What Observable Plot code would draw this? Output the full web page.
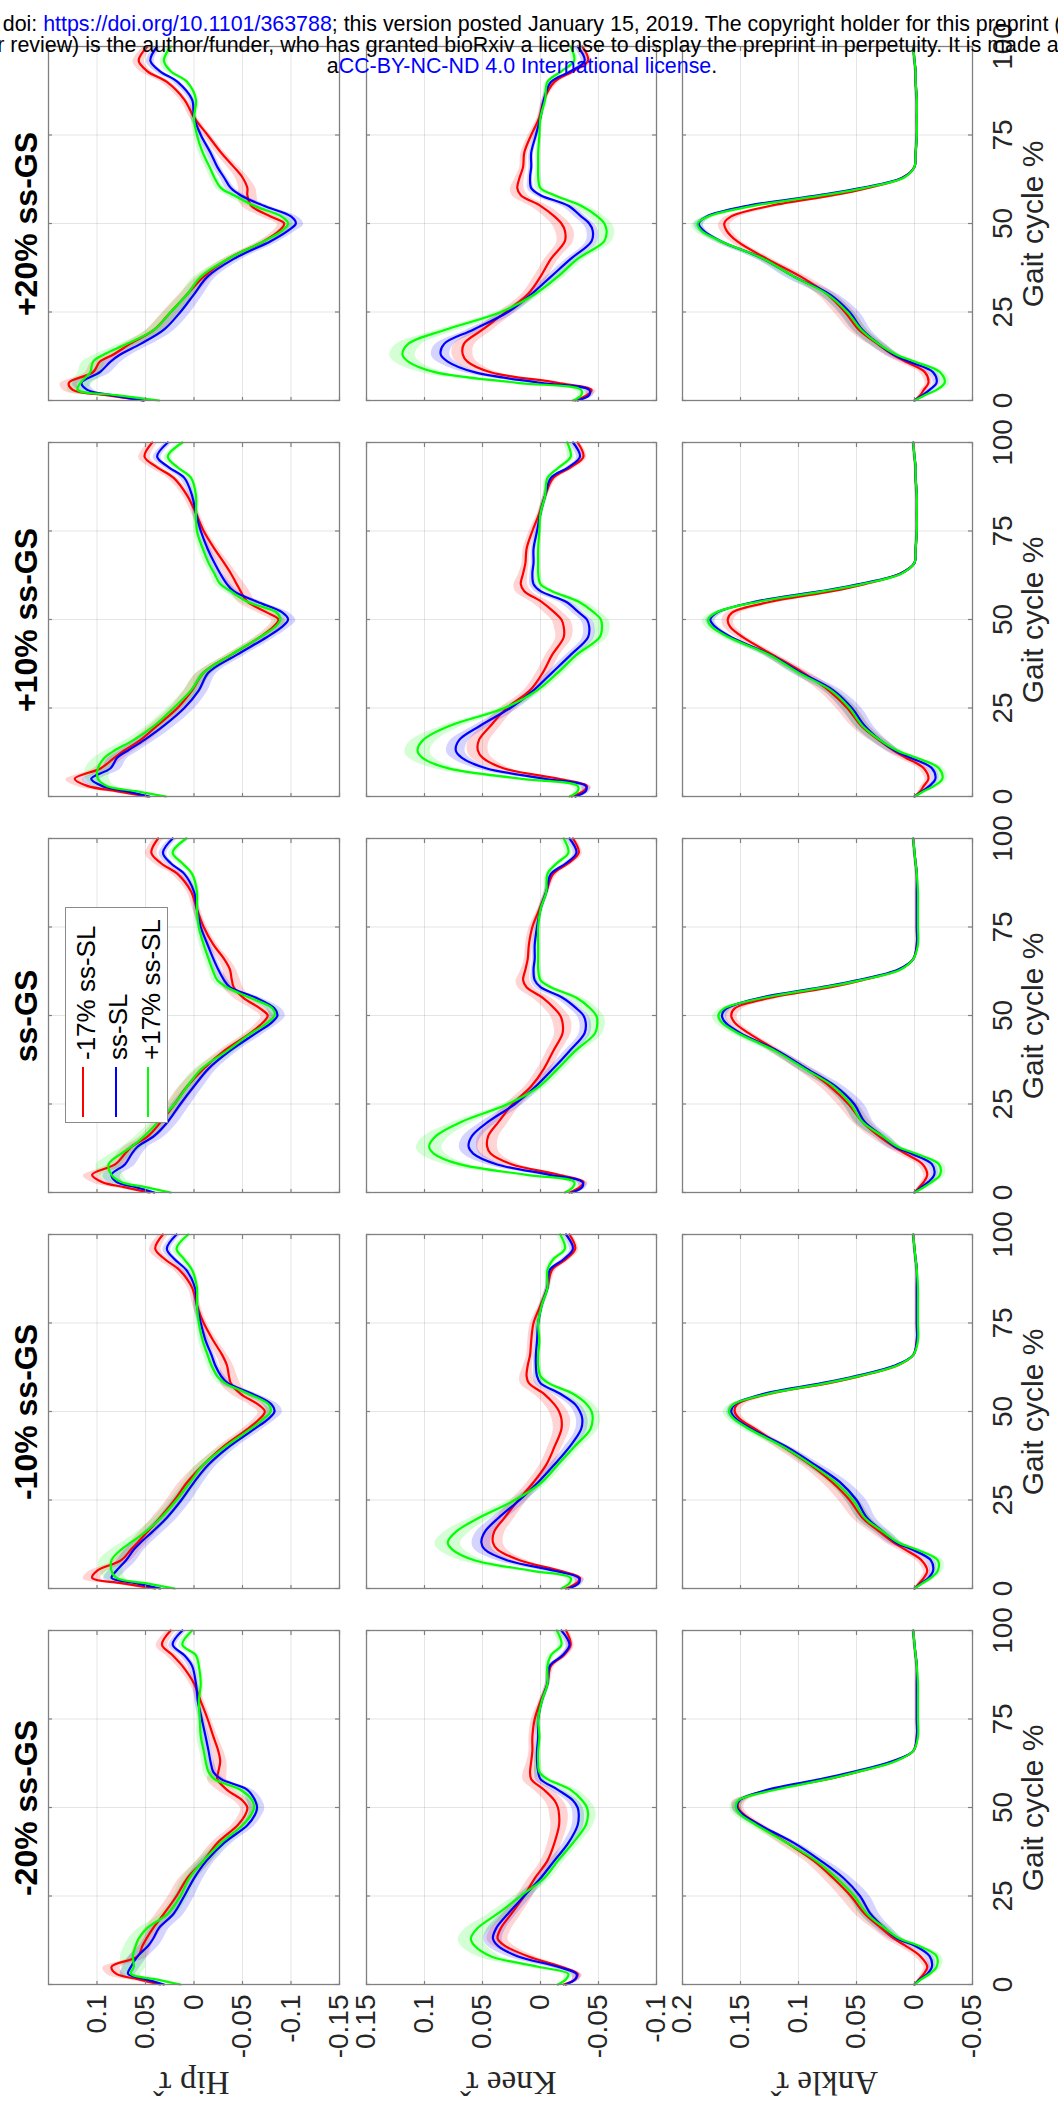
<!DOCTYPE html>
<html><head><meta charset="utf-8">
<script src="https://cdn.jsdelivr.net/npm/d3@7"></script>
<script src="https://cdn.jsdelivr.net/npm/@observablehq/plot@0.6"></script>
<style>
html,body{margin:0;padding:0;background:#fff;}
body{width:1058px;height:2112px;position:relative;overflow:hidden;font-family:"Liberation Sans",Arial,Helvetica,sans-serif;}
#fig{position:absolute;left:0;top:0;width:2112px;height:1058px;transform-origin:0 0;transform:translate(0px,2112px) rotate(-90deg);}
.t{position:absolute;white-space:nowrap;line-height:1;}
.hdr{position:absolute;left:-600px;width:2244px;text-align:center;font-size:21.4px;line-height:21px;white-space:nowrap;color:#000;}
.lnk{color:#0000ff;}
</style></head><body>
<div id="fig"></div>
<div class="hdr" style="top:14px">bioRxiv preprint doi: <span class="lnk">https://doi.org/10.1101/363788</span>; this version posted January 15, 2019. The copyright holder for this preprint (which was not</div>
<div class="hdr" style="top:35px">certified by peer review) is the author/funder, who has granted bioRxiv a license to display the preprint in perpetuity. It is made available under</div>
<div class="hdr" style="top:56px">a<span class="lnk">CC-BY-NC-ND 4.0 International license</span>.</div>
<script>
// ---------- data ----------
const G = [0,1.5,3,5,8,11,13,16,20,25,30,35,40,45,48,50,52,55,58,60,63,66,70,75,80,85,90,93,96,100];
const conditions = ["-20% ss-GS","-10% ss-GS","ss-GS","+10% ss-GS","+20% ss-GS"];
const seriesNames = ["-17% ss-SL","ss-SL","+17% ss-SL"];
const seriesColors = ["#ff0000","#0000ff","#00ff00"];
const jointLabels = ["Hip","Knee","Ankle"];
const gaitTicks = [0,25,50,75,100];
const hipTicks = [0.1,0.05,0,-0.05,-0.1,-0.15];
const kneeTicks = [0.15,0.1,0.05,0,-0.05,-0.1];
const ankleTicks = [0.2,0.15,0.1,0.05,0,-0.05];
const hipDomain = [-0.15,0.15];
const kneeDomain = [-0.1,0.15];
const ankleDomain = [-0.05,0.2];

// each array: one row per condition (-20%, -10%, ss, +10%, +20%), values at G
const hipRed = [
 [0.035,0.058,0.08,0.085,0.058,0.053,0.049,0.042,0.031,0.018,0.007,-0.01,-0.024,-0.045,-0.053,-0.055,-0.05,-0.034,-0.024,-0.025,-0.027,-0.025,-0.02,-0.014,-0.007,0,0.012,0.022,0.033,0.024],
 [0.04,0.075,0.105,0.1,0.075,0.065,0.058,0.048,0.035,0.02,0.007,-0.01,-0.03,-0.055,-0.068,-0.073,-0.066,-0.048,-0.038,-0.036,-0.034,-0.029,-0.02,-0.01,-0.003,0.002,0.015,0.03,0.04,0.032],
 [0.046,0.072,0.095,0.105,0.081,0.071,0.064,0.047,0.034,0.02,0.007,-0.01,-0.031,-0.058,-0.071,-0.076,-0.068,-0.051,-0.041,-0.039,-0.037,-0.031,-0.02,-0.01,-0.003,0.003,0.017,0.034,0.044,0.037],
 [0.048,0.08,0.11,0.123,0.096,0.082,0.072,0.055,0.038,0.017,0.002,-0.01,-0.038,-0.068,-0.082,-0.087,-0.075,-0.055,-0.048,-0.044,-0.038,-0.031,-0.021,-0.01,-0.002,0.007,0.021,0.038,0.051,0.043],
 [0.052,0.09,0.125,0.129,0.104,0.097,0.083,0.066,0.041,0.024,0.007,-0.01,-0.035,-0.072,-0.088,-0.093,-0.079,-0.059,-0.055,-0.055,-0.05,-0.041,-0.028,-0.014,0,0.01,0.028,0.048,0.057,0.048]
];
const hipBlue = [
 [0.031,0.05,0.068,0.065,0.058,0.047,0.042,0.036,0.021,0.01,0,-0.013,-0.031,-0.055,-0.063,-0.065,-0.063,-0.055,-0.028,-0.02,-0.017,-0.015,-0.012,-0.008,-0.004,-0.002,0.002,0.01,0.022,0.012],
 [0.035,0.06,0.085,0.08,0.07,0.062,0.055,0.043,0.028,0.013,0,-0.015,-0.036,-0.062,-0.077,-0.083,-0.08,-0.06,-0.035,-0.028,-0.022,-0.018,-0.012,-0.007,-0.003,-0.001,0.008,0.02,0.028,0.018],
 [0.041,0.06,0.08,0.085,0.071,0.064,0.058,0.041,0.027,0.014,0,-0.015,-0.037,-0.064,-0.08,-0.086,-0.083,-0.064,-0.037,-0.031,-0.025,-0.02,-0.014,-0.007,-0.003,0,0.01,0.024,0.032,0.022],
 [0.046,0.07,0.095,0.106,0.086,0.079,0.068,0.051,0.031,0.01,-0.005,-0.015,-0.044,-0.075,-0.091,-0.097,-0.091,-0.065,-0.041,-0.034,-0.027,-0.021,-0.014,-0.007,-0.002,0.002,0.01,0.026,0.038,0.027],
 [0.052,0.085,0.11,0.116,0.097,0.086,0.076,0.055,0.031,0.014,0,-0.014,-0.041,-0.079,-0.097,-0.105,-0.1,-0.072,-0.048,-0.038,-0.031,-0.024,-0.017,-0.007,0,0.002,0.017,0.035,0.045,0.038]
];
const hipGreen = [
 [0.014,0.04,0.065,0.062,0.063,0.06,0.057,0.048,0.027,0.014,0.005,-0.01,-0.028,-0.05,-0.059,-0.062,-0.06,-0.048,-0.021,-0.015,-0.012,-0.01,-0.007,-0.006,-0.005,-0.007,-0.005,-0.002,0.012,0.002],
 [0.02,0.05,0.08,0.085,0.085,0.075,0.065,0.05,0.034,0.018,0.004,-0.01,-0.032,-0.058,-0.072,-0.079,-0.077,-0.056,-0.032,-0.024,-0.018,-0.014,-0.009,-0.005,-0.003,-0.003,0.002,0.01,0.018,0.006],
 [0.024,0.05,0.075,0.085,0.088,0.075,0.064,0.051,0.037,0.02,0.007,-0.008,-0.034,-0.059,-0.076,-0.083,-0.081,-0.058,-0.034,-0.024,-0.019,-0.015,-0.01,-0.005,-0.003,-0.003,0.002,0.012,0.022,0.008],
 [0.029,0.06,0.09,0.099,0.099,0.092,0.082,0.062,0.041,0.021,0.003,-0.01,-0.038,-0.068,-0.084,-0.089,-0.085,-0.055,-0.038,-0.027,-0.021,-0.015,-0.009,-0.003,-0.002,-0.002,0.003,0.017,0.027,0.012],
 [0.036,0.08,0.12,0.117,0.107,0.104,0.093,0.069,0.041,0.024,0.007,-0.007,-0.035,-0.072,-0.091,-0.097,-0.09,-0.062,-0.041,-0.028,-0.021,-0.016,-0.009,-0.003,0,-0.002,0.007,0.024,0.031,0.024]
];
const kneeRed = [
 [-0.02,-0.03,-0.032,-0.018,0.011,0.031,0.037,0.034,0.025,0.014,0.005,-0.006,-0.012,-0.016,-0.016,-0.015,-0.012,-0.003,0.008,0.009,0.008,0.007,0.007,0.005,0,-0.006,-0.009,-0.02,-0.026,-0.022],
 [-0.022,-0.031,-0.034,-0.017,0.018,0.037,0.041,0.04,0.031,0.019,0.006,-0.005,-0.012,-0.018,-0.018,-0.016,-0.012,-0.003,0.01,0.012,0.011,0.009,0.008,0.006,0,-0.006,-0.01,-0.022,-0.03,-0.025],
 [-0.025,-0.034,-0.037,-0.016,0.025,0.043,0.046,0.045,0.036,0.024,0.008,-0.003,-0.011,-0.019,-0.019,-0.017,-0.012,-0.002,0.012,0.015,0.013,0.011,0.01,0.007,0.001,-0.005,-0.011,-0.024,-0.033,-0.028],
 [-0.027,-0.037,-0.04,-0.016,0.032,0.05,0.054,0.053,0.043,0.029,0.009,-0.002,-0.01,-0.02,-0.02,-0.018,-0.012,-0.001,0.014,0.017,0.015,0.013,0.012,0.007,0.001,-0.004,-0.011,-0.026,-0.037,-0.032],
 [-0.03,-0.04,-0.044,-0.015,0.043,0.063,0.067,0.066,0.05,0.03,0.011,0,-0.009,-0.021,-0.021,-0.018,-0.012,0,0.017,0.02,0.018,0.015,0.014,0.008,0.001,-0.003,-0.012,-0.028,-0.041,-0.036]
];
const kneeBlue = [
 [-0.022,-0.03,-0.031,-0.015,0.02,0.037,0.041,0.038,0.028,0.014,0,-0.012,-0.024,-0.032,-0.033,-0.032,-0.028,-0.015,0,0.002,0.003,0.003,0.002,0.002,-0.001,-0.006,-0.008,-0.019,-0.025,-0.018],
 [-0.024,-0.033,-0.033,-0.012,0.029,0.048,0.051,0.048,0.036,0.018,0.002,-0.012,-0.025,-0.035,-0.036,-0.034,-0.03,-0.017,0,0.003,0.004,0.004,0.003,0.002,-0.001,-0.006,-0.008,-0.02,-0.028,-0.022],
 [-0.027,-0.036,-0.036,-0.008,0.038,0.058,0.062,0.059,0.045,0.022,0.004,-0.011,-0.025,-0.038,-0.039,-0.037,-0.031,-0.019,0,0.005,0.006,0.005,0.005,0.003,0,-0.005,-0.009,-0.022,-0.031,-0.025],
 [-0.03,-0.039,-0.039,-0.004,0.047,0.068,0.073,0.07,0.052,0.026,0.006,-0.01,-0.026,-0.041,-0.042,-0.04,-0.033,-0.022,0,0.006,0.007,0.006,0.006,0.003,0,-0.004,-0.009,-0.024,-0.034,-0.028],
 [-0.032,-0.042,-0.042,0,0.057,0.08,0.086,0.083,0.058,0.028,0.008,-0.009,-0.026,-0.044,-0.045,-0.042,-0.035,-0.024,0,0.008,0.009,0.008,0.008,0.004,0,-0.003,-0.009,-0.026,-0.038,-0.032]
];
const kneeGreen = [
 [-0.015,-0.022,-0.024,0.002,0.043,0.057,0.06,0.054,0.037,0.017,-0.003,-0.015,-0.028,-0.039,-0.041,-0.04,-0.036,-0.026,-0.006,0.001,0.002,0.002,0.001,0.002,-0.001,-0.006,-0.006,-0.009,-0.018,-0.014],
 [-0.018,-0.025,-0.026,0.007,0.057,0.076,0.08,0.073,0.053,0.022,-0.001,-0.015,-0.029,-0.043,-0.045,-0.044,-0.04,-0.028,-0.007,0,0.002,0.002,0.001,0.002,-0.001,-0.006,-0.006,-0.011,-0.021,-0.017],
 [-0.021,-0.028,-0.029,0.012,0.07,0.092,0.096,0.09,0.068,0.028,0.001,-0.015,-0.03,-0.047,-0.049,-0.048,-0.043,-0.031,-0.009,0,0.002,0.002,0.002,0.002,0,-0.005,-0.006,-0.014,-0.024,-0.02],
 [-0.025,-0.032,-0.032,0.016,0.08,0.102,0.106,0.101,0.078,0.031,0.003,-0.015,-0.031,-0.051,-0.053,-0.052,-0.046,-0.033,-0.01,0,0.002,0.002,0.002,0.001,0,-0.004,-0.006,-0.016,-0.026,-0.023],
 [-0.028,-0.035,-0.035,0.02,0.091,0.114,0.119,0.114,0.082,0.034,0.005,-0.015,-0.032,-0.055,-0.057,-0.055,-0.049,-0.035,-0.012,0,0.002,0.002,0.002,0.001,0,-0.004,-0.006,-0.018,-0.029,-0.026]
];
const ankleRed = [
 [0,-0.004,-0.008,-0.011,-0.005,0.008,0.018,0.029,0.043,0.055,0.07,0.087,0.11,0.133,0.147,0.152,0.151,0.124,0.075,0.05,0.018,0.001,-0.002,-0.002,-0.002,-0.002,-0.002,-0.001,0,0.001],
 [0,-0.004,-0.008,-0.011,-0.006,0.008,0.018,0.03,0.045,0.056,0.071,0.09,0.113,0.137,0.151,0.155,0.153,0.125,0.074,0.047,0.015,0.001,-0.002,-0.002,-0.002,-0.002,-0.002,-0.001,0,0.001],
 [0,-0.004,-0.008,-0.011,-0.007,0.008,0.018,0.031,0.045,0.057,0.073,0.094,0.118,0.143,0.155,0.158,0.155,0.124,0.072,0.045,0.013,0.001,-0.002,-0.002,-0.002,-0.002,-0.002,-0.001,0,0.001],
 [0,-0.005,-0.008,-0.012,-0.008,0.008,0.018,0.031,0.046,0.058,0.074,0.096,0.122,0.148,0.159,0.161,0.157,0.124,0.071,0.043,0.012,0,-0.001,-0.002,-0.002,-0.002,-0.001,-0.001,0,0.001],
 [0,-0.005,-0.008,-0.012,-0.009,0.008,0.019,0.032,0.048,0.06,0.075,0.098,0.127,0.153,0.162,0.164,0.158,0.124,0.07,0.041,0.01,0,-0.001,-0.002,-0.002,-0.002,-0.001,-0.001,0,0.001]
];
const ankleBlue = [
 [0,-0.005,-0.011,-0.015,-0.013,0,0.015,0.026,0.038,0.047,0.061,0.081,0.104,0.133,0.148,0.153,0.151,0.127,0.081,0.054,0.02,0.001,-0.002,-0.002,-0.002,-0.002,-0.002,-0.001,0,0.001],
 [0,-0.006,-0.012,-0.016,-0.014,0.002,0.016,0.027,0.041,0.05,0.064,0.086,0.11,0.14,0.154,0.158,0.155,0.13,0.08,0.051,0.017,0.001,-0.002,-0.002,-0.002,-0.002,-0.002,-0.001,0,0.001],
 [0,-0.006,-0.012,-0.017,-0.015,0.003,0.017,0.028,0.043,0.052,0.068,0.093,0.118,0.15,0.163,0.166,0.162,0.133,0.08,0.049,0.014,0.001,-0.002,-0.002,-0.002,-0.002,-0.002,-0.001,0,0.001],
 [0,-0.007,-0.013,-0.018,-0.015,0.004,0.017,0.03,0.043,0.054,0.07,0.098,0.124,0.158,0.172,0.176,0.17,0.138,0.081,0.048,0.012,0,-0.001,-0.002,-0.002,-0.002,-0.001,-0.001,0,0.001],
 [0,-0.007,-0.013,-0.019,-0.016,0.005,0.018,0.031,0.045,0.056,0.073,0.104,0.13,0.167,0.182,0.186,0.179,0.144,0.082,0.047,0.01,0,-0.001,-0.002,-0.002,-0.002,-0.001,-0.001,0,0.001]
];
const ankleGreen = [
 [0,-0.006,-0.013,-0.019,-0.019,-0.003,0.013,0.026,0.041,0.052,0.067,0.085,0.11,0.136,0.15,0.154,0.152,0.12,0.075,0.05,0.017,0.001,-0.003,-0.003,-0.003,-0.003,-0.002,-0.001,0,0.001],
 [0,-0.007,-0.014,-0.02,-0.02,-0.002,0.014,0.027,0.043,0.053,0.068,0.089,0.113,0.142,0.156,0.16,0.156,0.126,0.076,0.048,0.015,0.001,-0.003,-0.003,-0.003,-0.003,-0.002,-0.001,0,0.001],
 [0,-0.008,-0.015,-0.022,-0.021,-0.001,0.015,0.028,0.045,0.055,0.07,0.095,0.12,0.152,0.166,0.169,0.164,0.13,0.077,0.046,0.012,0.001,-0.003,-0.003,-0.003,-0.003,-0.002,-0.001,0,0.001],
 [0,-0.008,-0.017,-0.024,-0.021,-0.001,0.015,0.03,0.045,0.056,0.072,0.1,0.125,0.16,0.175,0.178,0.171,0.135,0.078,0.045,0.011,0,-0.001,-0.002,-0.002,-0.002,-0.001,-0.001,0,0.001],
 [0,-0.009,-0.019,-0.026,-0.022,0,0.016,0.031,0.046,0.058,0.075,0.104,0.13,0.167,0.184,0.187,0.178,0.139,0.078,0.044,0.009,0,-0.001,-0.002,-0.002,-0.002,-0.001,-0.001,0,0.001]
];
// band half-widths (shaded spread), per joint and series, at G
const hipSdRed   = [0.003,0.006,0.009,0.009,0.009,0.009,0.009,0.009,0.009,0.009,0.009,0.008,0.007,0.007,0.007,0.007,0.008,0.009,0.01,0.009,0.007,0.006,0.005,0.004,0.004,0.004,0.005,0.006,0.006,0.005];
const hipSdBlue  = [0.003,0.006,0.008,0.009,0.01,0.01,0.01,0.01,0.01,0.01,0.009,0.008,0.007,0.007,0.007,0.008,0.008,0.007,0.006,0.005,0.004,0.004,0.004,0.003,0.003,0.003,0.004,0.004,0.004,0.004];
const hipSdGreen = [0.003,0.007,0.01,0.012,0.013,0.012,0.011,0.01,0.009,0.008,0.008,0.008,0.007,0.006,0.006,0.006,0.006,0.006,0.006,0.005,0.004,0.004,0.004,0.003,0.003,0.003,0.003,0.004,0.004,0.004];
const kneeSdRed   = [0.002,0.003,0.004,0.006,0.008,0.009,0.009,0.009,0.008,0.007,0.006,0.006,0.006,0.007,0.008,0.008,0.008,0.008,0.007,0.006,0.004,0.003,0.003,0.003,0.002,0.002,0.003,0.003,0.003,0.003];
const kneeSdBlue  = [0.002,0.003,0.004,0.006,0.007,0.008,0.008,0.008,0.007,0.006,0.005,0.005,0.005,0.005,0.005,0.005,0.005,0.005,0.004,0.003,0.002,0.002,0.002,0.002,0.002,0.002,0.002,0.003,0.003,0.003];
const kneeSdGreen = [0.002,0.003,0.004,0.007,0.01,0.011,0.011,0.011,0.009,0.007,0.005,0.005,0.005,0.006,0.007,0.007,0.007,0.007,0.005,0.004,0.003,0.002,0.002,0.002,0.002,0.002,0.002,0.003,0.003,0.003];
const ankleSdRed   = [0.001,0.002,0.003,0.003,0.004,0.005,0.006,0.007,0.008,0.009,0.008,0.007,0.006,0.005,0.005,0.005,0.006,0.005,0.004,0.004,0.003,0.001,0.001,0.001,0.001,0.001,0.001,0.001,0.001,0.001];
const ankleSdBlue  = [0.001,0.002,0.003,0.003,0.004,0.005,0.006,0.007,0.008,0.009,0.008,0.007,0.005,0.004,0.004,0.004,0.004,0.004,0.003,0.003,0.002,0.001,0.001,0.001,0.001,0.001,0.001,0.001,0.001,0.001];
const ankleSdGreen = [0.001,0.002,0.003,0.004,0.005,0.005,0.005,0.006,0.006,0.006,0.006,0.005,0.005,0.005,0.005,0.005,0.005,0.004,0.003,0.003,0.002,0.001,0.001,0.001,0.001,0.001,0.001,0.001,0.001,0.001];

// ---------- layout ----------
const FONT = '"Liberation Sans", Arial, Helvetica, sans-serif';
const COL_X = 127, COL_STEP = 396, PW = 354;
const ROW_Y = [48, 366, 682], ROW_H = [291, 290, 290];
const M = 80;
const fig = document.getElementById("fig");

const joints = [
  {label: jointLabels[0], ticks: hipTicks, domain: hipDomain, vals: [hipRed, hipBlue, hipGreen], sd: [hipSdRed, hipSdBlue, hipSdGreen]},
  {label: jointLabels[1], ticks: kneeTicks, domain: kneeDomain, vals: [kneeRed, kneeBlue, kneeGreen], sd: [kneeSdRed, kneeSdBlue, kneeSdGreen]},
  {label: jointLabels[2], ticks: ankleTicks, domain: ankleDomain, vals: [ankleRed, ankleBlue, ankleGreen], sd: [ankleSdRed, ankleSdBlue, ankleSdGreen]}
];
const fmt = d => String(Math.round(d * 1000) / 1000);
const rowsFor = (vals, sd) => G.map((g, i) => ({g, v: vals[i], lo: vals[i] - sd[i], hi: vals[i] + sd[i]}));

function addText(txt, x, y, style) {
  const d = document.createElement("div");
  d.className = "t";
  d.textContent = txt;
  Object.assign(d.style, style || {});
  d.style.left = x + "px";
  d.style.top = y + "px";
  fig.appendChild(d);
  return d;
}

for (let c = 0; c < conditions.length; c++) {
  for (let r = 0; r < 3; r++) {
    const J = joints[r];
    const x0 = COL_X + COL_STEP * c, y0 = ROW_Y[r], h = ROW_H[r];
    const marks = [
      Plot.gridX(gaitTicks, {stroke: "#000", strokeOpacity: 0.1, strokeWidth: 1}),
      Plot.gridY(J.ticks, {stroke: "#000", strokeOpacity: 0.1, strokeWidth: 1})
    ];
    for (let s = 0; s < 3; s++) {
      marks.push(Plot.areaY(rowsFor(J.vals[s][c], J.sd[s]), {x: "g", y1: "lo", y2: "hi", fill: seriesColors[s], fillOpacity: 0.17, curve: "catmull-rom"}));
    }
    for (let s = 0; s < 3; s++) {
      marks.push(Plot.line(rowsFor(J.vals[s][c], J.sd[s]), {x: "g", y: "v", stroke: seriesColors[s], strokeWidth: 2.2, curve: "catmull-rom"}));
    }
    marks.push(
      Plot.ruleX(gaitTicks, {stroke: "#808080", strokeWidth: 1.2, insetTop: h - 4}),
      Plot.ruleX(gaitTicks, {stroke: "#808080", strokeWidth: 1.2, insetBottom: h - 4}),
      Plot.ruleY(J.ticks, {stroke: "#808080", strokeWidth: 1.2, insetLeft: PW - 4}),
      Plot.ruleY(J.ticks, {stroke: "#808080", strokeWidth: 1.2, insetRight: PW - 4}),
      Plot.frame({stroke: "#808080", strokeWidth: 1.3})
    );
    const showX = r === 2, showY = c === 0;
    if (showX) marks.push(Plot.axisX(gaitTicks, {anchor: "bottom", tickSize: 0, tickPadding: 20, label: null, fill: "#262626"}));
    if (showY) marks.push(Plot.axisY(J.ticks, {anchor: "left", tickSize: 0, tickPadding: 10, label: null, tickFormat: fmt, fill: "#262626"}));
    const p = Plot.plot({
      width: PW + 2 * M, height: h + 2 * M,
      marginLeft: M, marginRight: M, marginTop: M, marginBottom: M,
      style: {background: "transparent", overflow: "visible", fontFamily: FONT, fontSize: "28px", color: "#262626"},
      x: {domain: [0, 100], axis: showX ? undefined : null},
      y: {domain: J.domain, axis: showY ? undefined : null},
      marks
    });
    p.style.position = "absolute";
    p.style.left = (x0 - M) + "px";
    p.style.top = (y0 - M) + "px";
    fig.appendChild(p);
  }
  // column title
  addText(conditions[c], COL_X + COL_STEP * c, 37 - 0.8465 * 32, {width: PW + "px", textAlign: "center", fontWeight: "bold", fontSize: "32px", color: "#000"});
  // x label
  addText("Gait cycle %", COL_X + COL_STEP * c, 1043 - 0.8465 * 30, {width: PW + "px", textAlign: "center", fontSize: "30px", color: "#262626"});
}
// y labels
for (let r = 0; r < 3; r++) {
  const cy = ROW_Y[r] + ROW_H[r] / 2;
  addText(joints[r].label + " \u03C4\u0302", 30, cy, {fontFamily: '"Liberation Serif", "Times New Roman", serif', fontSize: "33px", color: "#262626", transform: "translate(-50%,-50%) rotate(-90deg)"});
}
// legend in ss-GS hip panel
const LX = 989, LY = 65, LW = 216, LH = 103;
const box = document.createElement("div");
Object.assign(box.style, {position: "absolute", left: LX + "px", top: LY + "px", width: LW + "px", height: LH + "px", background: "#fff", border: "1px solid #8a8a8a", boxSizing: "border-box"});
fig.appendChild(box);
for (let s = 0; s < 3; s++) {
  const ly = 83 + 32.5 * s;
  const ln = document.createElement("div");
  Object.assign(ln.style, {position: "absolute", left: "995px", top: (ly - 1) + "px", width: "50px", height: "2.2px", background: seriesColors[s]});
  fig.appendChild(ln);
  addText(seriesNames[s], 1052, ly + 12 - 0.8465 * 26, {fontSize: "26px", color: "#000"});
}
</script>
</body></html>
